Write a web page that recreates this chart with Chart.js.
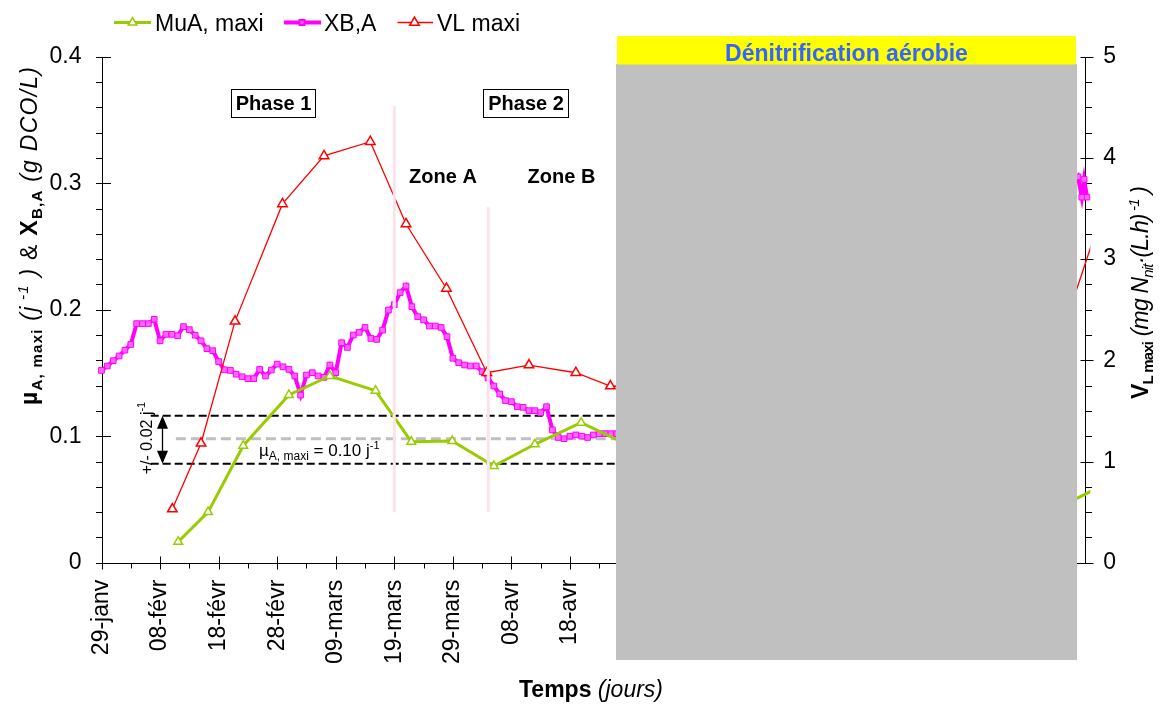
<!DOCTYPE html>
<html><head><meta charset="utf-8">
<script src="https://cdn.jsdelivr.net/npm/chart.js@4.4.1/dist/chart.umd.min.js"></script>
<style>html,body{margin:0;padding:0;background:#fff;}canvas{display:block;}</style>
</head><body>
<canvas id="c" width="1160" height="704"></canvas>
<script>
// ---------- data ----------
const dateLabels = ["29-janv","08-févr","18-févr","28-févr","09-mars","19-mars","29-mars","08-avr","18-avr","28-avr","08-mai","18-mai","28-mai","07-juin","17-juin","27-juin","07-juil"];

const xbaDays = [0,1,2,3,4,5,6,7,8,9,10,11,12,13,14,15,16,17,18,19,20,21,22,23,24,25,26,27,28,29,30,31,32,33,34,35,36,37,38,39,40,41,42,43,44,45,46,47,48,49,50,51,52,53,54,55,56,57,58,59,60,61,62,63,64,65,66,67,68,69,70,71,72,73,74,75,76,77,78,79,80,81,82,83,84,85,86,87,88,166,166.75,167.4,167.8,168.3,168.8];
const xbaValues = [0.152,0.1555,0.1597,0.1634,0.168,0.1725,0.189,0.189,0.189,0.1924,0.1754,0.1805,0.1805,0.1794,0.1866,0.1842,0.1798,0.1754,0.1692,0.1676,0.159,0.1525,0.152,0.149,0.147,0.1455,0.1455,0.1528,0.1476,0.1523,0.157,0.1549,0.1528,0.1476,0.1325,0.1484,0.1502,0.1476,0.1465,0.1563,0.1502,0.1739,0.1702,0.18,0.1821,0.186,0.1773,0.1765,0.1839,0.1997,0.204,0.2135,0.2187,0.2024,0.1945,0.192,0.1871,0.1871,0.186,0.1787,0.1616,0.1581,0.1563,0.1555,0.1555,0.151,0.146,0.1397,0.1334,0.1281,0.1273,0.1233,0.1228,0.1202,0.1202,0.1186,0.1233,0.105,0.099,0.098,0.1,0.101,0.1,0.099,0.101,0.102,0.102,0.102,0.102,0.300,0.305,0.289,0.303,0.289,0.305];

const muaDays = [13.1,18.2,24.2,32.0,39.0,46.8,52.9,59.9,67.0,74.0,81.9,90,160,172];
const muaValues = [0.0166,0.040,0.0925,0.1326,0.1476,0.136,0.0957,0.0962,0.0764,0.0936,0.1107,0.093,0.0355,0.0636];

const vlDays = [12.1,17.0,22.8,30.9,38.0,45.9,52.0,58.9,65.8,73.0,81.0,86.9,160,172];
const vlValues = [0.53,1.18,2.385,3.545,4.02,4.16,3.347,2.71,1.877,1.953,1.877,1.746,1.57,3.65];

const muaRef = 0.098;
const muaUpper = 0.1162;
const muaLower = 0.0783;
const blackRefDays = [8.4, 95];
const greyRefDays = [12.7, 95];

const zoneLineDays = [50.0, 66.05];
const zoneLineTops = [0.361, 0.281];
const zoneLineBottom = 0.0398;

// ---------- helpers ----------
const FONT = "'Liberation Sans', Arial, sans-serif";
Chart.defaults.font.family = FONT;
Chart.defaults.color = '#000';
const pts = (xs, ys) => xs.map((x, i) => ({x: x, y: ys[i]}));

function drawRuns(ctx, runs, x, y, rot, align, target) {
  ctx.save();
  ctx.translate(x, y);
  ctx.rotate(rot);
  ctx.textBaseline = 'alphabetic';
  ctx.textAlign = 'left';
  let total = 0, nch = 0;
  runs.forEach(r => { ctx.font = r.f; r.w = ctx.measureText(r.t).width; total += r.w; nch += r.t.length; });
  let extra = 0;
  if (target) { extra = (target - total) / Math.max(1, nch - 1); total = target; }
  let cx = align === 'center' ? -total / 2 : 0;
  runs.forEach(r => {
    ctx.font = r.f; ctx.fillStyle = r.c || '#000';
    if (!extra) { ctx.fillText(r.t, cx, r.dy || 0); cx += r.w; }
    else {
      for (const ch of r.t) { ctx.fillText(ch, cx, r.dy || 0); cx += ctx.measureText(ch).width + extra; }
    }
  });
  ctx.restore();
}
function tri(ctx, x, y, r) {
  ctx.beginPath();
  ctx.moveTo(x, y - r);
  ctx.lineTo(x + r * Math.sin(2 * Math.PI / 3), y - r * Math.cos(2 * Math.PI / 3));
  ctx.lineTo(x + r * Math.sin(4 * Math.PI / 3), y - r * Math.cos(4 * Math.PI / 3));
  ctx.closePath();
}

const B = 'bold 23px ' + FONT, BS = 'bold 15px ' + FONT, I = 'italic 23px ' + FONT, IS = 'italic 15px ' + FONT, N = '23px ' + FONT;

const deco = {
  id: 'deco',
  beforeDatasetsDraw(chart) {
    const ctx = chart.ctx, a = chart.chartArea;
    const xs = chart.scales.x, ys = chart.scales.y, y2 = chart.scales.y2;
    ctx.save();
    ctx.strokeStyle = '#000';
    ctx.lineWidth = 1;
    const L = Math.round(a.left) + 0.5, R = Math.round(a.right) + 0.5, Bt = Math.round(a.bottom) + 0.5, T = Math.round(a.top);
    ctx.beginPath();
    ctx.moveTo(L, T); ctx.lineTo(L, Bt); ctx.lineTo(R, Bt);
    ctx.moveTo(R, T); ctx.lineTo(R, Bt);
    for (let d = 0; d <= 165; d += 5) {
      const px = Math.round(xs.getPixelForValue(d)) + 0.5;
      if (d % 10 === 0) { ctx.moveTo(px, Bt - 7); ctx.lineTo(px, Bt + 6); }
      else { ctx.moveTo(px, Bt); ctx.lineTo(px, Bt + 5); }
    }
    for (let i = 0; i <= 20; i++) {
      const py = Math.round(ys.getPixelForValue(i * 0.02)) + 0.5;
      if (i % 5 === 0) { ctx.moveTo(L - 6.5, py); ctx.lineTo(L + 8.5, py); }
      else { ctx.moveTo(L - 6.5, py); ctx.lineTo(L, py); }
    }
    for (let i = 0; i <= 20; i++) {
      const py = Math.round(y2.getPixelForValue(i * 0.25)) + 0.5;
      if (i % 4 === 0) { ctx.moveTo(R - 5, py); ctx.lineTo(R + 8, py); }
      else { ctx.moveTo(R, py); ctx.lineTo(R + 6.5, py); }
    }
    ctx.stroke();
    ctx.restore();
  },
  afterDatasetsDraw(chart) {
    const ctx = chart.ctx;
    const xs = chart.scales.x, ys = chart.scales.y;
    ctx.save();
    const ax = Math.round(xs.getPixelForValue(10.3)) + 0.5;
    const yt = ys.getPixelForValue(muaUpper), yb = ys.getPixelForValue(muaLower);
    ctx.strokeStyle = '#000'; ctx.fillStyle = '#000'; ctx.lineWidth = 1.3;
    ctx.beginPath(); ctx.moveTo(ax, yt + 10); ctx.lineTo(ax, yb - 10); ctx.stroke();
    ctx.beginPath(); ctx.moveTo(ax, yt); ctx.lineTo(ax - 5.5, yt + 13); ctx.lineTo(ax + 5.5, yt + 13); ctx.closePath(); ctx.fill();
    ctx.beginPath(); ctx.moveTo(ax, yb); ctx.lineTo(ax - 5.5, yb - 13); ctx.lineTo(ax + 5.5, yb - 13); ctx.closePath(); ctx.fill();
    drawRuns(ctx, [{t: '+/- 0.02 j', f: '16px ' + FONT}, {t: '-1', f: '11px ' + FONT, dy: -7}], 152, 438, -Math.PI / 2, 'center');
    drawRuns(ctx, [{t: 'µ', f: '17px ' + FONT}, {t: 'A, maxi', f: '12px ' + FONT, dy: 4}, {t: ' = 0.10 j', f: '17px ' + FONT}, {t: '-1', f: '11px ' + FONT, dy: -7}], 259, 456, 0, 'left');
    ctx.lineWidth = 1; ctx.strokeStyle = '#000';
    [[231.5, 89.5, 84, 28, 'Phase 1'], [483.5, 89.5, 85, 28, 'Phase 2']].forEach(b => {
      ctx.fillStyle = '#fff'; ctx.fillRect(b[0], b[1], b[2], b[3]);
      ctx.strokeRect(b[0], b[1], b[2], b[3]);
      ctx.fillStyle = '#000'; ctx.font = 'bold 20px ' + FONT; ctx.textAlign = 'center'; ctx.textBaseline = 'middle';
      ctx.fillText(b[4], b[0] + b[2] / 2, b[1] + b[3] / 2 + 1);
    });
    ctx.font = 'bold 20px ' + FONT; ctx.textAlign = 'center'; ctx.textBaseline = 'alphabetic';
    ctx.fillText('Zone A', 443, 183);
    ctx.fillText('Zone B', 561.5, 183);
    ctx.restore();
  },
  afterDraw(chart) {
    const ctx = chart.ctx;
    ctx.save();
    drawRuns(ctx, [{t: 'µ', f: B}, {t: 'A, maxi', f: BS, dy: 5}, {t: ' (', f: I}, {t: 'j', f: I}, {t: ' -1', f: IS, dy: -9}, {t: ' )', f: I}, {t: ' & ', f: N}, {t: 'X', f: B}, {t: 'B,A', f: BS, dy: 5}, {t: ' (g DCO/L)', f: I}], 36.5, 236, -Math.PI / 2, 'center', 338);
    drawRuns(ctx, [{t: 'V', f: B}, {t: 'L maxi', f: BS, dy: 5}, {t: ' (mg N', f: I}, {t: 'nit', f: IS, dy: 5}, {t: '·(L.h)', f: I}, {t: ' -1', f: IS, dy: -9}, {t: ' )', f: I}], 1148, 292.5, -Math.PI / 2, 'center', 213);
    drawRuns(ctx, [{t: 'Temps ', f: B}, {t: '(jours)', f: I}], 591, 697, 0, 'center');
    const ly = 22.5;
    ctx.lineWidth = 3; ctx.strokeStyle = '#99cc00';
    ctx.beginPath(); ctx.moveTo(114, ly); ctx.lineTo(151, ly); ctx.stroke();
    ctx.lineWidth = 1.5; ctx.fillStyle = '#fff'; tri(ctx, 132.5, ly, 5); ctx.fill(); ctx.stroke();
    ctx.lineWidth = 4; ctx.strokeStyle = '#ff00ff';
    ctx.beginPath(); ctx.moveTo(284, ly); ctx.lineTo(321, ly); ctx.stroke();
    ctx.fillStyle = '#ff00ff'; ctx.fillRect(298.5, ly - 3.5, 7, 7);
    ctx.fillStyle = '#ff66ff'; ctx.fillRect(300.5, ly - 1.5, 3, 3);
    ctx.lineWidth = 1.3; ctx.strokeStyle = '#ff0000';
    ctx.beginPath(); ctx.moveTo(397.5, ly); ctx.lineTo(433, ly); ctx.stroke();
    ctx.lineWidth = 1.5; ctx.fillStyle = '#fff'; tri(ctx, 414.5, ly, 5.5); ctx.fill(); ctx.stroke();
    ctx.fillStyle = '#000'; ctx.font = N; ctx.textAlign = 'left'; ctx.textBaseline = 'alphabetic';
    ctx.fillText('MuA, maxi', 155, 30.5);
    ctx.fillText('XB,A', 324, 30.5);
    ctx.fillText('VL maxi', 437, 30.5);
    ctx.fillStyle = '#c0c0c0'; ctx.fillRect(616, 64, 461, 596);
    ctx.fillStyle = '#ffff00'; ctx.fillRect(617, 36, 459, 28.5);
    ctx.fillStyle = '#3366ff'; ctx.font = 'bold 23px ' + FONT; ctx.textAlign = 'center';
    ctx.fillText('Dénitrification aérobie', 846.5, 61);
    ctx.restore();
  }
};

const yLabel = v => { const t = Math.round(v * 10); return Math.abs(v * 10 - t) < 1e-6 ? String(t / 10) : ''; };
const y2Label = v => { const t = Math.round(v); return Math.abs(v - t) < 1e-6 ? String(t) : ''; };
const tailClip = {left: false, top: false, right: 5, bottom: false};

new Chart(document.getElementById('c'), {
  type: 'line',
  data: {
    datasets: [
      {label: 'zoneA', data: [{x: zoneLineDays[0], y: zoneLineBottom}, {x: zoneLineDays[0], y: zoneLineTops[0]}], borderColor: '#fbe2eb', borderWidth: 3, pointRadius: 0, yAxisID: 'y', order: 0},
      {label: 'zoneB', data: [{x: zoneLineDays[1], y: zoneLineBottom}, {x: zoneLineDays[1], y: zoneLineTops[1]}], borderColor: '#fbe2eb', borderWidth: 3, pointRadius: 0, yAxisID: 'y', order: 0},
      {label: 'VL maxi', data: pts(vlDays, vlValues), yAxisID: 'y2', borderColor: '#ff0000', borderWidth: 1.3, pointStyle: 'triangle', pointRadius: 5.5, pointBorderWidth: 1.5, pointBackgroundColor: '#fff', pointBorderColor: '#ff0000', clip: tailClip, order: 1},
      {label: 'MuA, maxi', data: pts(muaDays, muaValues), yAxisID: 'y', borderColor: '#99cc00', borderWidth: 3, pointStyle: 'triangle', pointRadius: 5, pointBorderWidth: 1.5, pointBackgroundColor: '#fff', pointBorderColor: '#99cc00', clip: tailClip, order: 2},
      {label: 'XB,A', data: pts(xbaDays, xbaValues), yAxisID: 'y', borderColor: '#ff00ff', borderWidth: 4, pointStyle: 'rect', pointRadius: 4, pointBorderWidth: 1, pointBackgroundColor: '#ff66ff', pointBorderColor: '#ff00ff', clip: tailClip, order: 3},
      {label: 'upper', data: blackRefDays.map(d => ({x: d, y: muaUpper})), yAxisID: 'y', borderColor: '#000', borderWidth: 2, borderDash: [8, 4], pointRadius: 0, order: 4},
      {label: 'lower', data: blackRefDays.map(d => ({x: d, y: muaLower})), yAxisID: 'y', borderColor: '#000', borderWidth: 2, borderDash: [8, 4], pointRadius: 0, order: 4},
      {label: 'ref', data: greyRefDays.map(d => ({x: d, y: muaRef})), yAxisID: 'y', borderColor: '#bfbfbf', borderWidth: 3, borderDash: [10, 5], pointRadius: 0, order: 5}
    ]
  },
  options: {
    responsive: false,
    animation: false,
    devicePixelRatio: 1,
    layout: {padding: {top: 56.7, left: 0, right: 0, bottom: 0}},
    elements: {line: {tension: 0}},
    plugins: {legend: {display: false}, tooltip: {enabled: false}},
    scales: {
      x: {type: 'linear', min: 0, max: 168,
        grid: {display: false, drawTicks: false}, border: {display: false},
        ticks: {stepSize: 5, autoSkip: false, minRotation: 90, maxRotation: 90, padding: 17, font: {size: 23}, color: '#000',
          callback: v => (v % 10 === 0 && dateLabels[v / 10] !== undefined) ? dateLabels[v / 10] : ''},
        afterFit: s => { s.height = 141.3; }},
      y: {type: 'linear', position: 'left', min: 0, max: 0.4,
        grid: {display: false, drawTicks: false}, border: {display: false},
        ticks: {stepSize: 0.02, autoSkip: false, padding: 20, font: {size: 23}, color: '#000', callback: yLabel},
        afterFit: s => { s.width = 101.5; }},
      y2: {type: 'linear', position: 'right', min: 0, max: 5,
        grid: {display: false, drawTicks: false}, border: {display: false},
        ticks: {stepSize: 0.25, autoSkip: false, padding: 18, font: {size: 23}, color: '#000', callback: y2Label},
        afterFit: s => { s.width = 74.7; }}
    }
  },
  plugins: [deco]
});
</script>
</body></html>
